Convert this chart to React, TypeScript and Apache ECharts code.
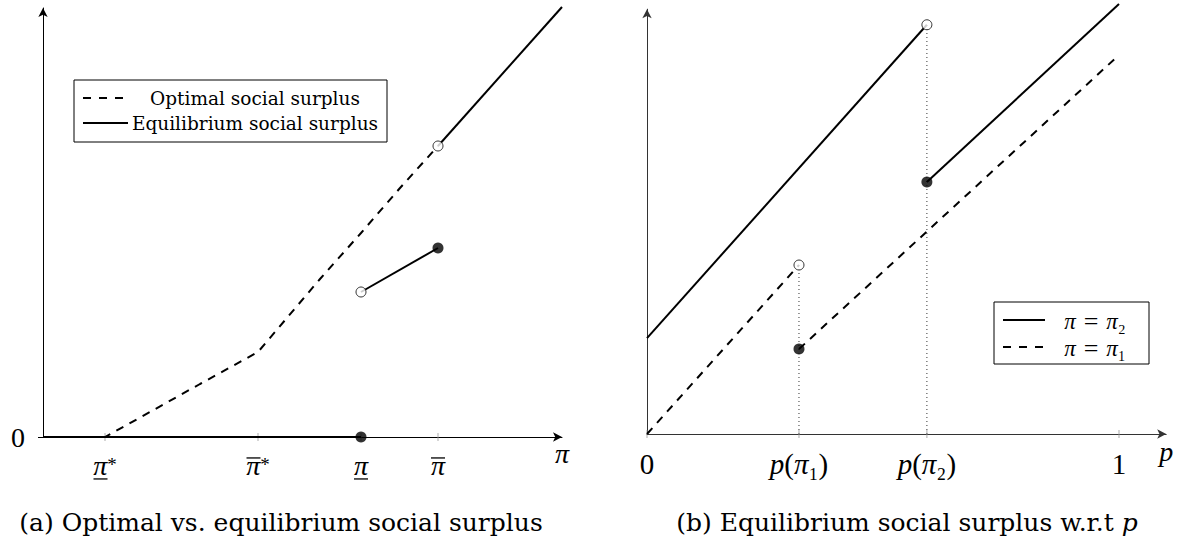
import React, { useEffect, useRef } from 'react';
import * as echarts from 'echarts';

// ---------- data: panel (a) ----------
const leftTickValues = [0.62, 2.15, 3.18, 3.95];
const leftTickLabels = ['π\u0332*', 'π\u0304*', 'π\u0332', 'π\u0304'];
const optimalSurplus = [
  [0, 0], [0.62, 0], [1.07, 0.25], [1.57, 0.53], [2.15, 0.85],
  [2.77, 1.58], [3.18, 2.04], [3.57, 2.49], [3.95, 2.91],
];
const eqZero = [[0, 0], [3.18, 0]];
const eqMiddle = [[3.18, 1.45], [3.95, 1.89]];
const eqHigh = [[3.95, 2.91], [5.19, 4.3]];
const leftOpen = [[3.18, 1.45], [3.95, 2.91]];
const leftFilled = [[3.18, 0], [3.95, 1.89]];

// ---------- data: panel (b) ----------
const pTickValues = [0, 0.322, 0.593, 1];
const pTickLabels = ['0', 'p(π₁)', 'p(π₂)', '1'];
const pi2Low = [[0, 0.203], [0.593, 0.867]];
const pi2High = [[0.593, 0.534], [1, 0.911]];
const pi1Low = [[0, 0], [0.322, 0.358]];
const pi1High = [[0.322, 0.18], [1, 0.803]];
const rightOpen = [[0.322, 0.358], [0.593, 0.867]];
const rightFilled = [[0.322, 0.18], [0.593, 0.534]];

const captionA = '(a) Optimal vs. equilibrium social surplus';
const captionB = '(b) Equilibrium social surplus w.r.t ';
const legendA = ['Optimal social surplus', 'Equilibrium social surplus'];
const legendB = ['π = π₂', 'π = π₁'];

const FONT = 'Liberation Serif';
const FONT_TXT = 'DejaVu Serif';
const DASH = [8, 7];

function mathRich(size: number, fam: string = FONT) {
  const base = { fontFamily: fam, color: '#000' };
  return {
    i: { ...base, fontStyle: 'italic', fontSize: size, lineHeight: size },
    r: { ...base, fontSize: size, lineHeight: size },
    eq: { ...base, fontSize: Math.round(size * 1.15), lineHeight: size, padding: [0, 8, 0, 8] },
    iu: { ...base, fontStyle: 'italic', fontSize: size, lineHeight: 26 },
    su: { ...base, fontSize: 19, height: 24, lineHeight: 1, verticalAlign: 'top' },
    im: { ...base, fontStyle: 'italic', fontSize: size, lineHeight: 12.8 },
    sm: { ...base, fontSize: 19, height: 10.8, lineHeight: 1, verticalAlign: 'top' },
    bt: { width: 14, height: 1.3, lineHeight: 6.6, verticalAlign: 'bottom', backgroundColor: '#000' },
    gt: { width: 9, height: 1, lineHeight: 6.6 },
    bb: { width: 14, height: 1.3, lineHeight: 1.6, verticalAlign: 'bottom', backgroundColor: '#000' },
    gb: { width: 9, height: 1, lineHeight: 1.6 },
  };
}

function toRich(str: string) {
  const toks: { k: string; t: string }[] = [];
  for (const ch of Array.from(str)) {
    let k = 'r';
    if (ch === 'p' || ch === 'π') k = 'i';
    else if (ch === '=') k = 'eq';
    if (ch === ' ') continue;
    if (toks.length && toks[toks.length - 1].k === k && k === 'r') toks[toks.length - 1].t += ch;
    else toks.push({ k, t: ch });
  }
  return toks.map((o) => `{${o.k}|${o.t}}`).join('');
}

function piLabel(label: string) {
  const under = label.includes('\u0332');
  const macron = label.includes('\u0304');
  const star = label.includes('*');
  if (under) return `{iu|π}${star ? '{su|*}' : ''}\n{bb| }${star ? '{gb| }' : ''}`;
  if (macron) return `{bt| }${star ? '{gt| }' : ''}\n{im|π}${star ? '{sm|*}' : ''}`;
  return toRich(label);
}

function labelFormatter(values: number[], labels: string[], fn: (s: string) => string) {
  return (v: number) => {
    const i = values.findIndex((t) => Math.abs(t - v) < 1e-9);
    return i < 0 ? '' : fn(labels[i]);
  };
}

function lineSeries(data: number[][], idx: number, dashed: boolean) {
  return {
    type: 'line', data, xAxisIndex: idx, yAxisIndex: idx,
    showSymbol: false, symbol: 'none', clip: false, z: 3, silent: true,
    lineStyle: { color: '#000', width: 2, type: dashed ? DASH : 'solid' },
  };
}

function dotSeries(data: number[][], idx: number, open: boolean) {
  return {
    type: 'scatter', data, xAxisIndex: idx, yAxisIndex: idx,
    symbol: 'circle', symbolSize: open ? 10 : 11, clip: false, z: 6, silent: true,
    itemStyle: open
      ? { color: '#fff', borderColor: '#000', borderWidth: 1 }
      : { color: '#000', borderColor: '#000', borderWidth: 0 },
  };
}

function tickSeries(values: number[], idx: number) {
  return {
    type: 'scatter', data: values.map((v) => [v, 0]), xAxisIndex: idx, yAxisIndex: idx,
    symbol: 'rect', symbolSize: [1, 8], clip: false, z: 2, silent: true,
    itemStyle: { color: '#999' },
  };
}

function dottedGuide(pt: number[], idx: number) {
  return {
    type: 'line', data: [[pt[0], 0], pt], xAxisIndex: idx, yAxisIndex: idx,
    showSymbol: false, symbol: 'none', z: 1, silent: true,
    lineStyle: { color: '#333', width: 1, type: [1, 3] },
  };
}

const axisArrow = (color: string) => ({
  show: true, lineStyle: { color, width: 1 }, symbol: ['none', 'arrow'], symbolSize: [7, 9],
});

const option = {
  animation: false,
  backgroundColor: '#fff',
  grid: [
    { left: 43, top: 8, width: 519, height: 429 },
    { left: 647, top: 9.2, width: 519.2, height: 424.8 },
  ],
  xAxis: [
    {
      gridIndex: 0, type: 'value', min: 0, max: 5.19,
      axisLine: axisArrow('#000'), axisTick: { show: false }, splitLine: { show: false },
      axisLabel: {
        customValues: leftTickValues,
        formatter: labelFormatter(leftTickValues, leftTickLabels, piLabel),
        margin: 15, rich: mathRich(28),
      },
      name: '{i|π}', nameLocation: 'end', nameGap: 0,
      nameTextStyle: { rich: mathRich(28), align: 'center', verticalAlign: 'top', padding: [2, 0, 0, 0] },
    },
    {
      gridIndex: 1, type: 'value', min: 0, max: 1.1,
      axisLine: axisArrow('#333'), axisTick: { show: false }, splitLine: { show: false },
      axisLabel: {
        customValues: pTickValues,
        formatter: labelFormatter(pTickValues, pTickLabels, toRich),
        margin: 15, rich: mathRich(29),
      },
      name: '{i|p}', nameLocation: 'end', nameGap: 0,
      nameTextStyle: { rich: mathRich(28), align: 'center', verticalAlign: 'top', padding: [3, 0, 0, 0] },
    },
  ],
  yAxis: [
    {
      gridIndex: 0, type: 'value', min: 0, max: 4.29,
      axisLine: axisArrow('#000'),
      axisTick: { show: true, customValues: [0], length: 5, lineStyle: { color: '#000' } },
      splitLine: { show: false },
      axisLabel: { customValues: [0], formatter: () => '{r|0}', margin: 18, rich: mathRich(28) },
    },
    {
      gridIndex: 1, type: 'value', min: 0, max: 0.9,
      axisLine: axisArrow('#333'), axisTick: { show: false }, splitLine: { show: false },
      axisLabel: { show: false },
    },
  ],
  series: [
    tickSeries(leftTickValues, 0),
    lineSeries(optimalSurplus, 0, true),
    lineSeries(eqZero, 0, false),
    lineSeries(eqMiddle, 0, false),
    lineSeries(eqHigh, 0, false),
    dotSeries(leftOpen, 0, true),
    dotSeries(leftFilled, 0, false),

    tickSeries(pTickValues, 1),
    dottedGuide(rightOpen[0], 1),
    dottedGuide(rightOpen[1], 1),
    lineSeries(pi2Low, 1, false),
    lineSeries(pi2High, 1, false),
    lineSeries(pi1Low, 1, true),
    lineSeries(pi1High, 1, true),
    dotSeries(rightOpen, 1, true),
    dotSeries(rightFilled, 1, false),
  ],
  graphic: [
    { type: 'rect', z: 100, shape: { x: 74, y: 80, width: 313, height: 62 }, style: { fill: '#fff', stroke: '#000', lineWidth: 1 } },
    { type: 'line', z: 101, shape: { x1: 83, y1: 98, x2: 123, y2: 98 }, style: { stroke: '#000', lineWidth: 2, lineDash: [8, 8] } },
    { type: 'line', z: 101, shape: { x1: 83, y1: 123, x2: 128, y2: 123 }, style: { stroke: '#000', lineWidth: 2 } },
    { type: 'text', z: 101, style: { text: legendA[0], x: 255, y: 98, align: 'center', verticalAlign: 'middle', fontFamily: FONT_TXT, fontSize: 18.5, fill: '#000' } },
    { type: 'text', z: 101, style: { text: legendA[1], x: 255, y: 123, align: 'center', verticalAlign: 'middle', fontFamily: FONT_TXT, fontSize: 18.5, fill: '#000' } },
    { type: 'rect', z: 100, shape: { x: 994, y: 302, width: 155, height: 62 }, style: { fill: '#fff', stroke: '#000', lineWidth: 1 } },
    { type: 'line', z: 101, shape: { x1: 1003, y1: 320, x2: 1045, y2: 320 }, style: { stroke: '#000', lineWidth: 2 } },
    { type: 'line', z: 101, shape: { x1: 1003, y1: 347, x2: 1045, y2: 347 }, style: { stroke: '#000', lineWidth: 2, lineDash: [8, 8] } },
    { type: 'text', z: 101, style: { text: toRich(legendB[0]), rich: mathRich(23), x: 1095, y: 321, align: 'center', verticalAlign: 'middle', fill: '#000' } },
    { type: 'text', z: 101, style: { text: toRich(legendB[1]), rich: mathRich(23), x: 1095, y: 348, align: 'center', verticalAlign: 'middle', fill: '#000' } },
    { type: 'text', style: { text: captionA, x: 281, y: 522, align: 'center', verticalAlign: 'middle', fontFamily: FONT_TXT, fontSize: 25, fill: '#000' } },
    { type: 'text', style: { text: `{r|${captionB}}{i|p}`, rich: { r: { fontFamily: FONT_TXT, fontSize: 25, color: '#000' }, i: { fontFamily: FONT_TXT, fontStyle: 'italic', fontSize: 25, color: '#000' } }, x: 907, y: 522, align: 'center', verticalAlign: 'middle', fill: '#000' } },
  ],
};

export default function App() {
  const ref = useRef<HTMLDivElement>(null);
  useEffect(() => {
    const chart = echarts.init(ref.current!, null, { renderer: 'svg' });
    chart.setOption(option as any);
    return () => chart.dispose();
  }, []);
  return (
    <div ref={ref} style={{ position: 'fixed', left: 0, top: 0, width: 1180, height: 546, background: '#fff' }} />
  );
}
